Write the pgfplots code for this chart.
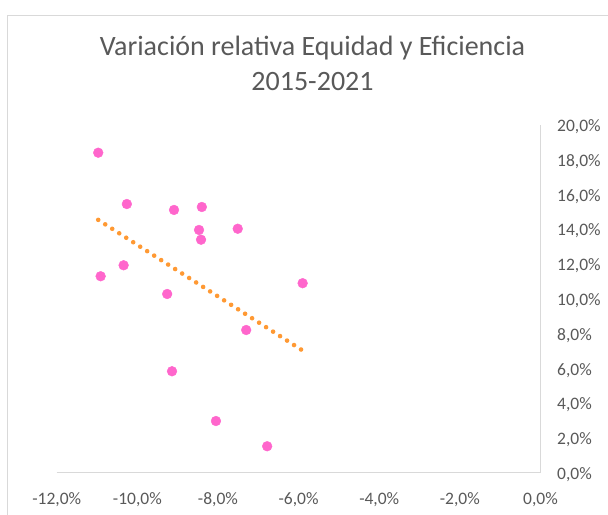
\documentclass[border=0pt]{standalone}
\usepackage{pgfplots}
\pgfplotsset{compat=1.18}
\usepackage{fontspec}
\setmainfont{Carlito}
\definecolor{txtgray}{HTML}{595959}
\definecolor{axgray}{HTML}{D9D9D9}
\definecolor{bordergray}{HTML}{D9D9D9}
\definecolor{dotpink}{HTML}{FF66CC}
\definecolor{trendorange}{HTML}{FF9933}
\begin{document}
\begin{tikzpicture}[x=1bp,y=1bp]
\useasboundingbox (0,0) rectangle (608,515);
\draw[bordergray, line width=1.2bp] (7.5,0) -- (7.5,499.5) -- (610,499.5);
\node[anchor=base, text=txtgray, font=\fontsize{28bp}{34bp}\selectfont, inner sep=0pt] at (312.5,459) {Variación relativa Equidad y Eficiencia};
\node[anchor=base, text=txtgray, font=\fontsize{28bp}{34bp}\selectfont, inner sep=0pt] at (312.5,424) {2015-2021};
\begin{axis}[
  at={(56.7bp,42.3bp)}, anchor=south west,
  scale only axis, width=483.8bp, height=348bp,
  xmin=-12, xmax=0, ymin=0, ymax=20,
  axis x line=bottom, axis y line=right,
  axis line style={draw=axgray, line width=1.3bp, -},
  xtick={-12,-10,-8,-6,-4,-2,0},
  ytick={0,2,4,6,8,10,12,14,16,18,20},
  major tick length=0pt,
  /pgf/number format/assume math mode=true,
  xticklabel={\pgfmathprintnumber[fixed,fixed zerofill,precision=1,use comma]{\tick}\%},
  yticklabel={\pgfmathprintnumber[fixed,fixed zerofill,precision=1,use comma]{\tick}\%},
  tick label style={text=txtgray, font=\fontsize{17.5bp}{20bp}\selectfont, inner sep=0pt},
  xticklabel style={anchor=north, yshift=-20bp},
  yticklabel style={anchor=west, xshift=16.5bp, yshift=-2bp},
  clip=false,
]
\addplot[only marks, mark=*, mark size=4.9bp, mark options={fill=dotpink, draw=dotpink}] coordinates {
  (-10.97,18.39)
  (-10.26,15.44)
  (-9.09,15.10)
  (-8.40,15.27)
  (-8.47,13.95)
  (-8.42,13.39)
  (-7.51,14.02)
  (-10.34,11.92)
  (-10.91,11.29)
  (-9.26,10.27)
  (-5.90,10.89)
  (-7.30,8.20)
  (-9.14,5.83)
  (-8.05,2.97)
  (-6.78,1.52)
};
\addplot[trendorange, line width=4.6bp, line cap=round, dash pattern=on 0bp off 8.3bp] coordinates {
  (-10.97,14.53)
  (-5.90,7.02)
};
\end{axis}
\end{tikzpicture}
\end{document}
